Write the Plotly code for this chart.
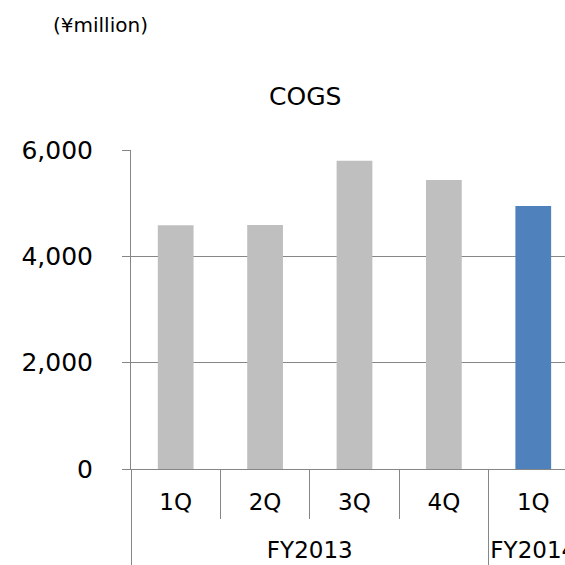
import plotly.graph_objects as go

quarters = ["1Q", "2Q", "3Q", "4Q", "1Q"]
fiscal_years = ["FY2013", "FY2014"]
fy_quarter_counts = [4, 1]
cogs = [4585, 4590, 5800, 5435, 4945]
bar_colors = ["#BFBFBF", "#BFBFBF", "#BFBFBF", "#BFBFBF", "#4F81BD"]
y_ticks = [0, 2000, 4000, 6000]
y_tick_labels = ["0", "2,000", "4,000", "6,000"]

FONT = "Verdana, DejaVu Sans, sans-serif"
GRAY = "#868686"

pos = list(range(len(quarters)))
# group centres and boundaries derived from the category counts
fy_centers, fy_bounds, start = [], [], 0
for n in fy_quarter_counts:
    fy_bounds.append(start - 0.5)
    fy_centers.append(start + (n - 1) / 2)
    start += n
quarter_bounds = [p + 0.5 for p in pos[:-1] if p + 0.5 not in fy_bounds]
fy_per_bar = [fy for fy, n in zip(fiscal_years, fy_quarter_counts) for _ in range(n)]

fig = go.Figure()
fig.add_trace(
    go.Bar(
        x=pos,
        y=cogs,
        marker=dict(color=bar_colors, line=dict(width=0)),
        width=0.4,
        hovertext=[f"{f} {q}" for f, q in zip(fy_per_bar, quarters)],
        showlegend=False,
    )
)
# empty carrier trace so the fiscal-year axis (x2) gets drawn
fig.add_trace(
    go.Scatter(x=fy_centers, y=[None] * len(fy_centers), xaxis="x2", yaxis="y",
               mode="markers", showlegend=False, hoverinfo="skip")
)

XR = [-0.5, 4.355]

fig.update_layout(
    width=565,
    height=565,
    margin=dict(l=131, r=0, t=150, b=96, autoexpand=False),
    paper_bgcolor="white",
    plot_bgcolor="white",
    showlegend=False,
    font=dict(family=FONT, size=23, color="#000000"),
    annotations=[
        dict(text="COGS", xref="paper", yref="paper", x=(305 - 131) / 434, y=1,
             xanchor="center", yanchor="middle", yshift=54, showarrow=False,
             font=dict(family=FONT, size=25, color="#000000")),
        dict(text="(¥million)", xref="paper", yref="paper", x=(51 - 131) / 434, y=1,
             xanchor="left", yanchor="middle", yshift=125, showarrow=False,
             font=dict(family=FONT, size=20, color="#000000")),
    ],
    xaxis=dict(
        range=XR,
        tickvals=pos,
        ticktext=quarters,
        ticks="",
        showline=True,
        linecolor=GRAY,
        linewidth=1,
        showgrid=False,
        zeroline=False,
        automargin=False,
        ticklabelstandoff=12,
        ticklabeloverflow="allow",
        tickfont=dict(family=FONT, size=23, color="#000000"),
        minor=dict(tickvals=quarter_bounds, ticks="outside", ticklen=49,
                   tickcolor=GRAY, tickwidth=1, showgrid=False),
    ),
    xaxis2=dict(
        overlaying="x",
        anchor="y",
        side="bottom",
        range=XR,
        tickvals=fy_centers,
        ticktext=fiscal_years,
        ticks="",
        showline=False,
        showgrid=False,
        zeroline=False,
        automargin=False,
        ticklabelstandoff=65,
        ticklabeloverflow="allow",
        tickfont=dict(family=FONT, size=23, color="#000000"),
        minor=dict(tickvals=fy_bounds, ticks="outside", ticklen=100,
                   tickcolor=GRAY, tickwidth=1, showgrid=False),
    ),
    yaxis=dict(
        range=[0, 6000],
        tickvals=y_ticks,
        ticktext=y_tick_labels,
        showline=True,
        linecolor=GRAY,
        linewidth=1,
        ticks="outside",
        ticklen=8,
        tickcolor=GRAY,
        showgrid=True,
        gridcolor=GRAY,
        gridwidth=1,
        zeroline=False,
        automargin=False,
        ticklabelstandoff=24,
        tickfont=dict(family=FONT, size=25, color="#000000"),
    ),
)

fig.write_html("out.html")
